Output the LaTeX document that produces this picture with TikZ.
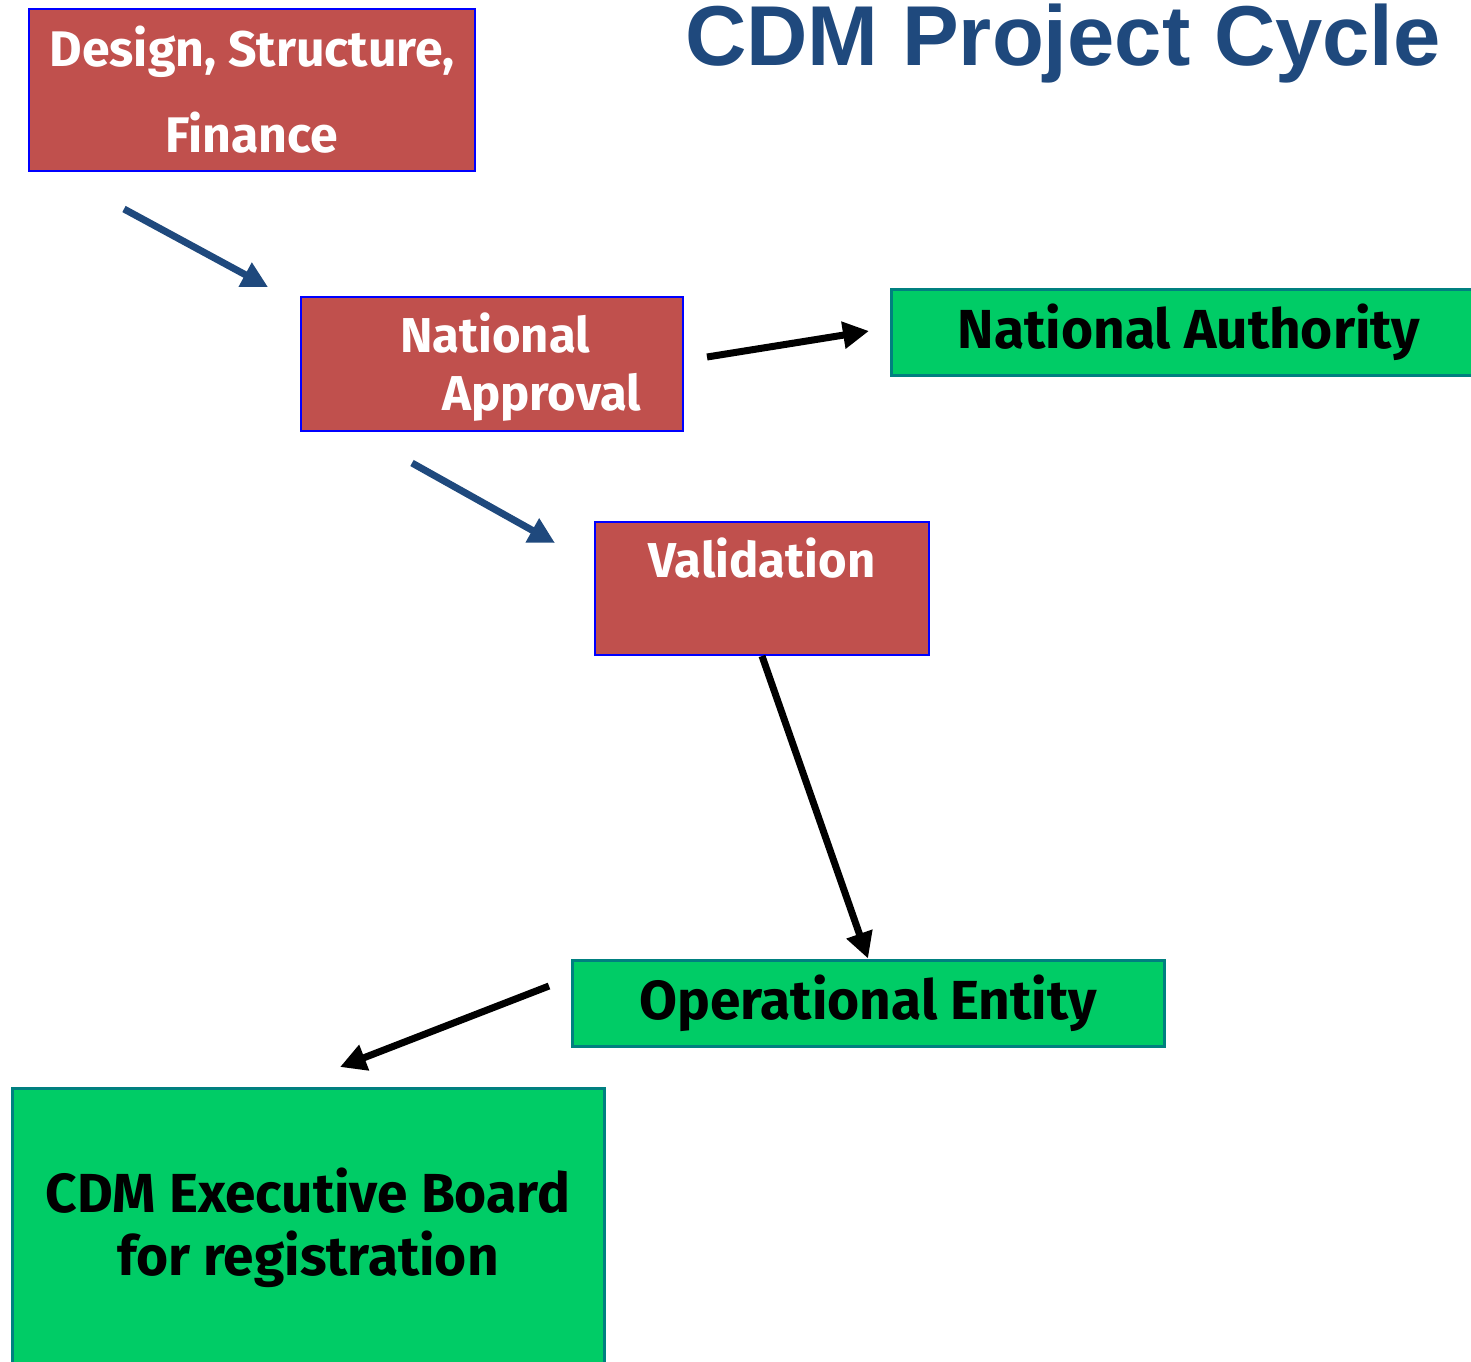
\documentclass[tikz,border=0pt]{standalone}
\usepackage{fontspec}
\setmainfont{Fira Sans}
\setsansfont{Liberation Sans}
\usetikzlibrary{arrows.meta}

\definecolor{boxred}{HTML}{C0504D}
\definecolor{boxgreen}{HTML}{00CC66}
\definecolor{edgeteal}{HTML}{008080}
\definecolor{navy}{HTML}{1F497D}

\begin{document}
\begin{tikzpicture}[x=1pt,y=-1pt,
  redbox/.style={draw=blue,line width=2pt,fill=boxred,inner sep=0pt,text=white,font=\bfseries\fontsize{50}{86}\selectfont,align=center},
  greenbox/.style={draw=edgeteal,line width=3pt,fill=boxgreen,inner sep=0pt,text=black,font=\bfseries\fontsize{55}{63}\selectfont,align=center},
  whitetext/.style={inner sep=0pt,text=white,font=\bfseries\fontsize{49}{60}\selectfont},
  bluearrow/.style={navy,line width=7pt,-{Triangle[length=26pt,width=26pt]}},
  blackarrow/.style={black,line width=7pt,-{Triangle[length=26pt,width=26pt]}}]
  \useasboundingbox (0,0) rectangle (1471,1361);
  \clip (0,0) rectangle (1471,1361);
  % title
  \node[anchor=base west,inner sep=0pt,text=navy,font=\sffamily\bfseries\fontsize{85}{90}\selectfont] (title) at (685,65) {CDM Project Cycle};
  % boxes
  \node[redbox,minimum width=446,minimum height=162] (design) at (252,90) {Design, Structure,\\Finance};
  \node[redbox,minimum width=382,minimum height=134] (approval) at (492,364) {};
  \node[whitetext,anchor=base west] (approval1) at (400,352) {National};
  \node[whitetext,anchor=base west] (approval2) at (442,410) {Approval};
  \node[redbox,minimum width=334,minimum height=133] (valid) at (762,588.5) {};
  \node[whitetext,anchor=base] (validtext) at (762,577) {Validation};
  \node[greenbox,minimum width=596,minimum height=86] (authority) at (1189,332) {National Authority};
  \node[greenbox,minimum width=592,minimum height=86] (opent) at (868,1003) {Operational Entity};
  \node[greenbox,minimum width=592,minimum height=280] (board) at (308,1228) {CDM Executive Board\\for registration};
  % arrows
  \coordinate (d1) at (124,209);
  \coordinate (d2) at (268,287);
  \coordinate (a1) at (707,357);
  \coordinate (a2) at (869,331);
  \coordinate (v1) at (412,463);
  \coordinate (v2) at (555,543);
  \coordinate (o1) at (549,986);
  \coordinate (o2) at (340,1067);
  \draw[bluearrow] (d1) -- (d2);
  \draw[blackarrow] (a1) -- (a2);
  \draw[bluearrow] (v1) -- (v2);
  \draw[blackarrow] (valid.south) -- (opent.north);
  \draw[blackarrow] (o1) -- (o2);
\end{tikzpicture}
\end{document}
